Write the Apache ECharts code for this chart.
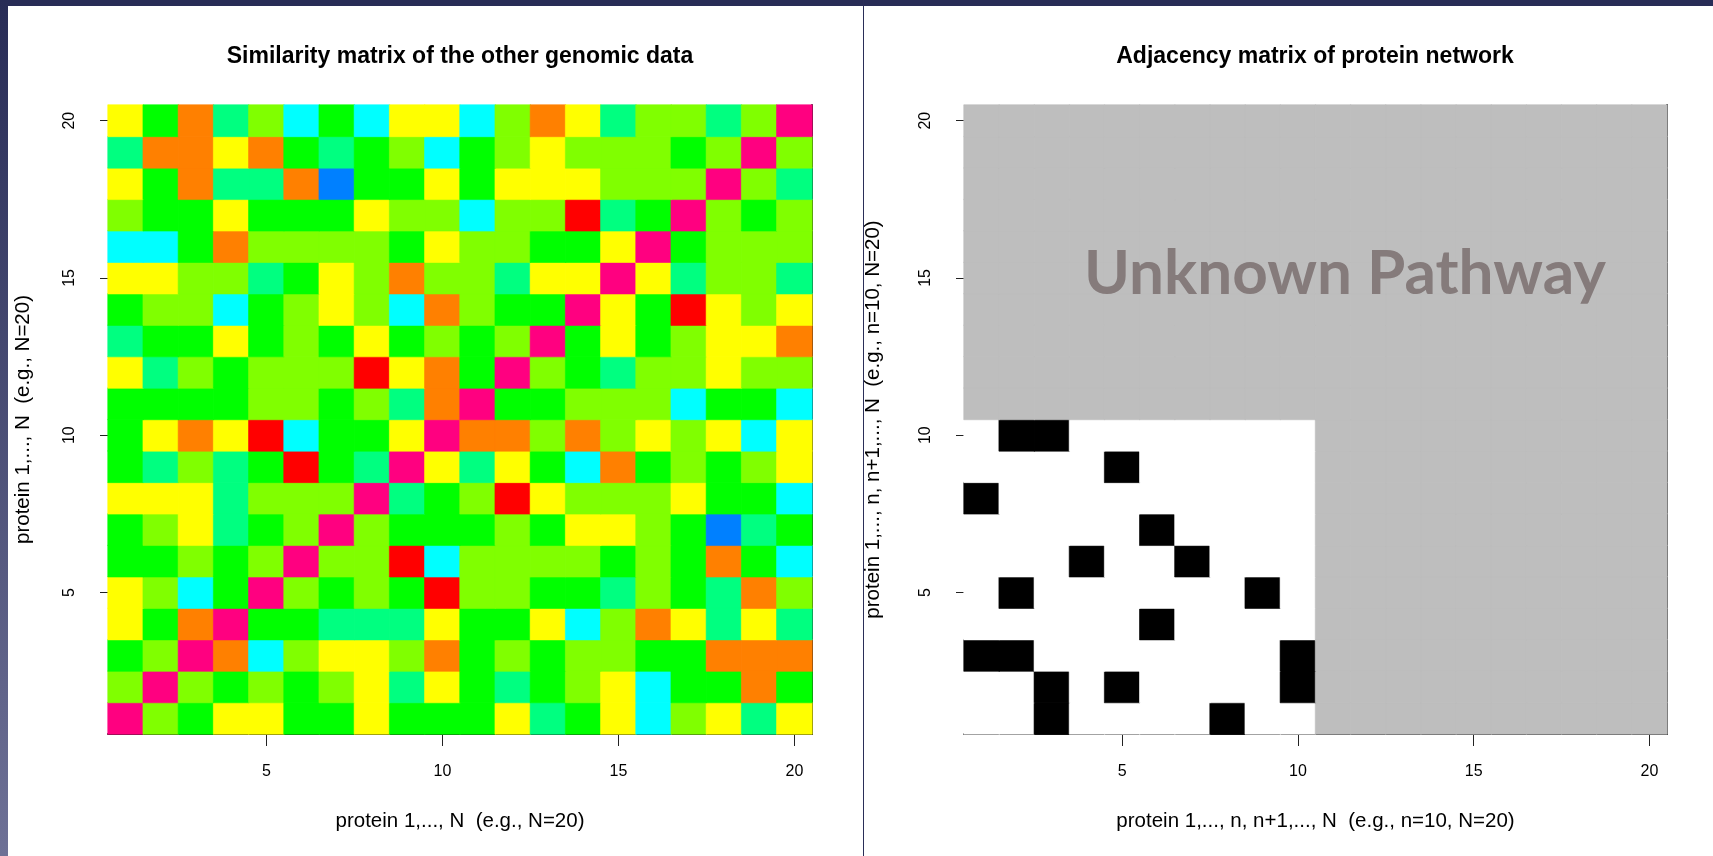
<!DOCTYPE html>
<html>
<head>
<meta charset="utf-8">
<script src="https://cdn.jsdelivr.net/npm/echarts@6/dist/echarts.min.js"></script>
<style>
html, body { margin: 0; padding: 0; background: #fff; }
#chart { position: absolute; left: 0; top: 0; width: 1713px; height: 856px; }
.frame { position: absolute; pointer-events: none; }
</style>
</head>
<body>
<div id="chart"></div>
<div class="frame" style="left:0;top:0;width:1713px;height:6px;background:#282c56"></div>
<div class="frame" style="left:0;top:0;width:8px;height:856px;background:linear-gradient(#282c56,#6e7196)"></div>
<div class="frame" style="left:863px;top:0;width:1px;height:856px;background:#2a2e58"></div>
<script>
// proteins 1..N (N = 20), n = 10 known
var proteins = ['1','2','3','4','5','6','7','8','9','10','11','12','13','14','15','16','17','18','19','20']
var nKnown = 10

// similarity levels, 1 = lowest (blue) ... 9 = highest (magenta)
var levelColors = ['#0080FF','#00FFFF','#00FF80','#00FF00','#80FF00','#FFFF00','#FF8000','#FF0000','#FF0080']

// rows listed from protein 1 (bottom) up to protein 20 (top)
var similarity = [
  [9,5,4,6,6,4,4,6,4,4,4,6,3,4,6,2,5,6,3,6],
  [5,9,5,4,5,4,5,6,3,6,4,3,4,5,6,2,4,4,7,4],
  [4,5,9,7,2,5,6,6,5,7,4,5,4,5,5,4,4,7,7,7],
  [6,4,7,9,4,4,3,3,3,6,4,4,6,2,5,7,6,3,6,3],
  [6,5,2,4,9,5,4,5,4,8,5,5,4,4,3,5,4,3,7,5],
  [4,4,5,4,5,9,5,5,8,2,5,5,5,5,4,5,4,7,4,2],
  [4,5,6,3,4,5,9,5,4,4,4,5,4,6,6,5,4,1,3,4],
  [6,6,6,3,5,5,5,9,3,4,5,8,6,5,5,5,6,4,4,2],
  [4,3,5,3,4,8,4,3,9,6,3,6,4,2,7,4,5,4,5,6],
  [4,6,7,6,8,2,4,4,6,9,7,7,5,7,5,6,5,6,2,6],
  [4,4,4,4,5,5,4,5,3,7,9,4,4,5,5,5,2,4,4,2],
  [6,3,5,4,5,5,5,8,6,7,4,9,5,4,3,5,5,6,5,5],
  [3,4,4,6,4,5,4,6,4,5,4,5,9,4,6,4,5,6,6,7],
  [4,5,5,2,4,5,6,5,2,7,5,4,4,9,6,4,8,6,5,6],
  [6,6,5,5,3,4,6,5,7,5,5,3,6,6,9,6,3,5,5,3],
  [2,2,4,7,5,5,5,5,4,6,5,5,4,4,6,9,4,5,5,5],
  [5,4,4,6,4,4,4,6,5,5,2,5,5,8,3,4,9,5,4,5],
  [6,4,7,3,3,7,1,4,4,6,4,6,6,6,5,5,5,9,5,3],
  [3,7,7,6,7,4,3,4,5,2,4,5,6,5,5,5,4,5,9,5],
  [6,4,7,3,5,2,4,2,6,6,2,5,7,6,3,5,5,3,5,9]
]

// adjacency of the n known proteins, rows from protein 1 (bottom) up
var adjacency = [
  [0,0,1,0,0,0,0,1,0,0],
  [0,0,1,0,1,0,0,0,0,1],
  [1,1,0,0,0,0,0,0,0,1],
  [0,0,0,0,0,1,0,0,0,0],
  [0,1,0,0,0,0,0,0,1,0],
  [0,0,0,1,0,0,1,0,0,0],
  [0,0,0,0,0,1,0,0,0,0],
  [1,0,0,0,0,0,0,0,0,0],
  [0,0,0,0,1,0,0,0,0,0],
  [0,1,1,0,0,0,0,0,0,0]
]
// -1 = unknown part of the network, 0 = no edge, 1 = edge
var adjColors = { '-1': '#BEBEBE', '0': '#FFFFFF', '1': '#000000' }

var simData = []
var adjData = []
for (var r = 0; r < proteins.length; r++) {
  for (var c = 0; c < proteins.length; c++) {
    var s = similarity[r][c]
    simData.push({ value: [c, r, s], itemStyle: { borderColor: levelColors[s - 1] } })
    var v = (r < nKnown && c < nKnown) ? adjacency[r][c] : -1
    adjData.push({ value: [c, r, v], itemStyle: { borderColor: adjColors[v] } })
  }
}

var FONT = '"Liberation Sans", Arial, sans-serif'
var everyFifth = function (idx) { return (idx + 1) % 5 === 0 }

function xAxisFor(gridIndex, name) {
  return {
    type: 'category', gridIndex: gridIndex, data: proteins, position: 'bottom',
    name: name, nameLocation: 'middle', nameGap: 77,
    nameTextStyle: { fontSize: 20.5, color: '#000', fontFamily: FONT },
    axisLine: { show: true, lineStyle: { color: '#222', width: 2 } },
    axisTick: { show: true, alignWithLabel: true, interval: everyFifth, length: 12, lineStyle: { color: '#222' } },
    axisLabel: { interval: everyFifth, margin: 30, fontSize: 16, color: '#000', fontFamily: FONT },
    splitLine: { show: false }
  }
}
function yAxisFor(gridIndex, name, gap) {
  return {
    type: 'category', gridIndex: gridIndex, data: proteins, position: 'left',
    name: name, nameLocation: 'middle', nameRotate: 90, nameGap: gap,
    nameTextStyle: { fontSize: 20.5, color: '#000', fontFamily: FONT },
    axisLine: { show: false },
    axisTick: { show: true, alignWithLabel: true, interval: everyFifth, length: 8, lineStyle: { color: '#222' } },
    axisLabel: { interval: everyFifth, rotate: 90, margin: 30, fontSize: 16, color: '#000', fontFamily: FONT },
    splitLine: { show: false }
  }
}
function rightEdge(gridIndex) {
  return {
    type: 'category', gridIndex: gridIndex, data: proteins, position: 'right',
    axisLine: { show: true, lineStyle: { color: '#222', width: 2 } },
    axisTick: { show: false }, axisLabel: { show: false }, splitLine: { show: false }
  }
}

var chart = echarts.init(document.getElementById('chart'))
chart.setOption({
  animation: false,
  backgroundColor: '#fff',
  grid: [
    { left: 108, top: 105, width: 704, height: 629 },
    { left: 964, top: 105, width: 703, height: 629 }
  ],
  xAxis: [
    xAxisFor(0, 'protein 1,..., N  (e.g., N=20)'),
    xAxisFor(1, 'protein 1,..., n, n+1,..., N  (e.g., n=10, N=20)')
  ],
  yAxis: [
    yAxisFor(0, 'protein 1,..., N  (e.g., N=20)', 74),
    rightEdge(0),
    yAxisFor(1, 'protein 1,..., n, n+1,..., N  (e.g., n=10, N=20)', 80),
    rightEdge(1)
  ],
  visualMap: [
    {
      type: 'piecewise', show: false, seriesIndex: 0, dimension: 2,
      pieces: levelColors.map(function (col, i) { return { value: i + 1, color: col } })
    },
    {
      type: 'piecewise', show: false, seriesIndex: 1, dimension: 2,
      pieces: [-1, 0, 1].map(function (v) { return { value: v, color: adjColors[v] } })
    }
  ],
  graphic: [
    { type: 'text', x: 460, y: 57, style: { text: 'Similarity matrix of the other genomic data', font: 'bold 23px ' + FONT, fill: '#000', textAlign: 'center', textVerticalAlign: 'middle' } },
    { type: 'text', x: 1315, y: 57, style: { text: 'Adjacency matrix of protein network', font: 'bold 23px ' + FONT, fill: '#000', textAlign: 'center', textVerticalAlign: 'middle' } },
    { type: 'text', x: 1345, y: 274, z: 10, style: { text: 'Unknown Pathway', font: 'bold 62px Lato, sans-serif', fill: '#857b7b', textAlign: 'center', textVerticalAlign: 'middle' } }
  ],
  series: [
    {
      type: 'heatmap', xAxisIndex: 0, yAxisIndex: 0, data: simData,
      itemStyle: { borderWidth: 0.6 }, emphasis: { disabled: true }
    },
    {
      type: 'heatmap', xAxisIndex: 1, yAxisIndex: 2, data: adjData,
      itemStyle: { borderWidth: 0.6 }, emphasis: { disabled: true }
    }
  ]
})
</script>
</body>
</html>
